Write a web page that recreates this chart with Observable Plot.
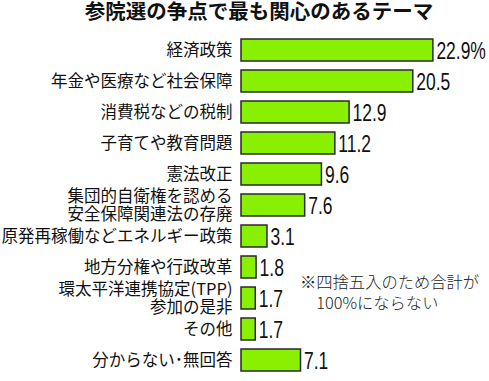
<!DOCTYPE html>
<html>
<head>
<meta charset="utf-8">
<script src="https://cdn.jsdelivr.net/npm/d3@7"></script>
<script src="https://cdn.jsdelivr.net/npm/@observablehq/plot@0.6"></script>
<style>
  html, body { margin: 0; padding: 0; background: #fff; }
  #chart { position: relative; width: 489px; height: 381px; }
  #note { position: absolute; left: 300px; top: 271px; font-family: "Noto Sans CJK JP", sans-serif;
    font-size: 16.3px; line-height: 21px; color: #222; font-weight: 300; white-space: pre; }
</style>
</head>
<body>
<div id="chart"><div id="note"></div></div>
<script>
const title = "参院選の争点で最も関心のあるテーマ";
const categories = [
  "経済政策",
  "年金や医療など社会保障",
  "消費税などの税制",
  "子育てや教育問題",
  "憲法改正",
  "集団的自衛権を認める\n安全保障関連法の存廃",
  "原発再稼働などエネルギー政策",
  "地方分権や行政改革",
  "環太平洋連携協定(TPP)\n参加の是非",
  "その他",
  "分からない\uFF65無回答"
];
const values = [22.9, 20.5, 12.9, 11.2, 9.6, 7.6, 3.1, 1.8, 1.7, 1.7, 7.1];
const valueLabels = ["22.9%", "20.5", "12.9", "11.2", "9.6", "7.6", "3.1", "1.8", "1.7", "1.7", "7.1"];
const noteText = "※四捨五入のため合計が\n\u3000100%にならない";

const data = categories.map((c, i) => ({ category: c, value: values[i], label: valueLabels[i] }));

const plot = Plot.plot({
  width: 489,
  height: 381,
  marginLeft: 241,
  marginRight: 5,
  marginTop: 30,
  marginBottom: 2,
  x: { domain: [0, 29], axis: null },
  y: { domain: categories, paddingInner: 0.3, paddingOuter: 0.15, label: null },
  style: { fontFamily: "'Noto Sans CJK JP', sans-serif", background: "#fff" },
  marks: [
    Plot.text([title], { text: d => d, frameAnchor: "top", dx: -104, dy: -18, lineAnchor: "middle",
      fontSize: 20.5, fontWeight: "bold", fill: "#111" }),
    Plot.barX(data, { y: "category", x: "value", fill: "#88f000", stroke: "#2a2a2a", strokeWidth: 1.5 }),
    Plot.axisY({ tickSize: 0, tickPadding: 9, fontSize: 16.5, lineHeight: 1.07, fill: "#111" }),
    Plot.text(data, { y: "category", x: "value", text: "label", textAnchor: "start", dx: 3, dy: 1,
      fontSize: 23, fontFamily: "'Liberation Sans', Arial, sans-serif", fill: "#111",
      className: "vlabels" })
  ]
});
const chart = document.getElementById("chart");
chart.insertBefore(plot, chart.firstChild);
// condense the value labels horizontally
plot.querySelectorAll(".vlabels text").forEach(t => {
  const tr = t.getAttribute("transform") || "";
  t.setAttribute("transform", tr + " scale(0.76,1)");
});
document.getElementById("note").textContent = noteText;
</script>
</body>
</html>
